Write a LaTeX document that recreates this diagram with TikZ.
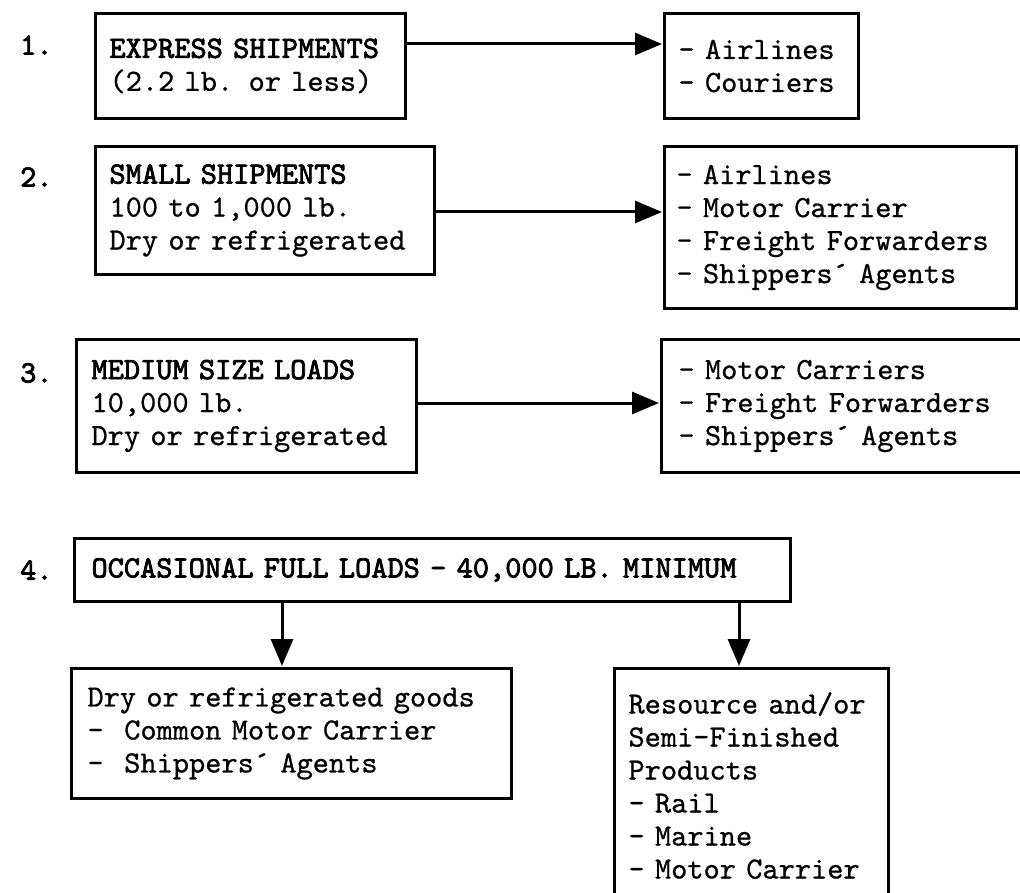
\documentclass[tikz,border=0pt]{standalone}
\usepackage{fontspec}
\setmainfont{lmmono10-regular.otf}[UprightFeatures={FakeBold=0.7}]
\newfontfamily\hdfont{lmmono10-regular.otf}[FakeBold=2.5]
\newcommand{\hd}[1]{{\hdfont\bfseries #1}}
\usetikzlibrary{arrows.meta}
\tikzset{
  box/.style={draw, line width=3pt, rectangle, anchor=north west, align=left,
    inner ysep=0pt, font=\fontsize{30.86}{33}\selectfont},
  num/.style={anchor=west, font=\fontsize{30.86}{33}\selectfont\hdfont\bfseries, inner sep=0pt},
  arr/.style={line width=3pt, -{Triangle[length=27pt,width=22pt]}, shorten >=1pt}
}
\begin{document}
\begin{tikzpicture}[x=1pt,y=-1pt]
\useasboundingbox (0,0) rectangle (1020,893);
% row 1
\node[num] (n1) at (20,45) {1.};
\node[box, inner xsep=14pt, text width=282pt, minimum height=105pt] (b1) at (94,12)
  {\hd{EXPRESS SHIPMENTS}\\(2.2 lb. or less)};
\node[box, inner xsep=14pt, text width=166pt, minimum height=105pt] (r1) at (663,12)
  {— Airlines\\— Couriers};
% row 2
\node[num] (n2) at (20,177) {2.};
\node[box, inner xsep=14pt, text width=311pt, minimum height=128pt] (b2) at (94,145)
  {\hd{SMALL SHIPMENTS}\\100 to 1,000 lb.\\Dry or refrigerated};
\node[box, inner xsep=12pt, text width=328pt, minimum height=162pt] (r2) at (663,145)
  {— Airlines\\— Motor Carrier\\— Freight Forwarders\\— Shippers´ Agents};
% row 3
\node[num] (n3) at (20,373) {3.};
\node[box, inner xsep=15pt, text width=310pt, minimum height=133pt] (b3) at (75,338)
  {\hd{MEDIUM SIZE LOADS}\\10,000 lb.\\Dry or refrigerated};
\node[box, inner xsep=17pt, text width=340pt, minimum height=133pt] (r3) at (660,338)
  {— Motor Carriers\\— Freight Forwarders\\— Shippers´ Agents};
% row 4
\node[num] (n4) at (20,570) {4.};
\node[box, inner xsep=17pt, text width=682pt, minimum height=63pt] (b4) at (73,537)
  {\hd{OCCASIONAL FULL LOADS — 40,000 LB. MINIMUM}};
\node[box, inner xsep=16pt, text width=408pt, minimum height=130pt] (d1) at (70,667)
  {Dry or refrigerated goods\\—\ \ Common Motor Carrier\\—\ \ Shippers´ Agents};
\node[box, inner xsep=14pt, text width=246pt, minimum height=234pt] (d2) at (613,667)
  {Resource and/or\\Semi—Finished\\Products\\— Rail\\— Marine\\— Motor Carrier};
% connectors
\coordinate (y1) at (0,44);
\coordinate (y2) at (0,212);
\coordinate (y3) at (0,403);
\coordinate (xa) at (282,0);
\coordinate (xb) at (739,0);
\draw[arr] (b1.east |- y1) -- (r1.west |- y1);
\draw[arr] (b2.east |- y2) -- (r2.west |- y2);
\draw[arr] (b3.east |- y3) -- (r3.west |- y3);
\draw[arr] (b4.south -| xa) -- (d1.north -| xa);
\draw[arr] (b4.south -| xb) -- (d2.north -| xb);
\end{tikzpicture}
\end{document}
